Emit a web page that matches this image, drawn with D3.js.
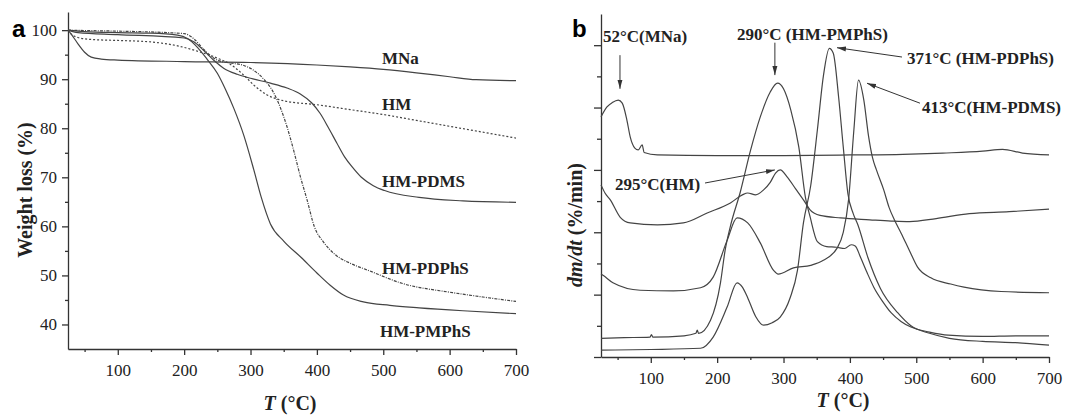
<!DOCTYPE html>
<html>
<head>
<meta charset="utf-8">
<script src="https://cdn.jsdelivr.net/npm/d3@7"></script>
<style>
body { margin: 0; background: #fff; }
svg { display: block; font-family: "Liberation Serif", "Times New Roman", serif; }
.axis path, .axis line { stroke: #333; stroke-width: 1.3; }
.axis text { font-size: 17px; fill: #222; }
.curve { fill: none; stroke: #444; stroke-width: 1.2; }
.lbl { font-size: 17px; font-weight: bold; fill: #222; }
.title { font-size: 20px; font-weight: bold; fill: #222; }
.arrow { stroke: #333; stroke-width: 1; fill: none; }
</style>
</head>
<body>
<script>
//////////////// Datas (a) : TGA, weight loss % vs T ////////////////////
var xTicks = [100, 200, 300, 400, 500, 600, 700];
var xMinor = [50, 150, 250, 350, 450, 550, 650];
var yTicksA = [40, 50, 60, 70, 80, 90, 100];
var yMinorA = [45, 55, 65, 75, 85, 95];

var tgaMNa = [[25,100],[32,98.8],[40,97.2],[50,95.5],[60,94.5],[75,94.1],[100,93.9],[200,93.6],[300,93.4],[400,92.9],[450,92.5],[500,92.0],[550,91.3],[600,90.5],[640,89.9],[700,89.7]];
var tgaHM = [[25,100],[30,99.2],[40,98.5],[60,98.1],[100,97.9],[150,97.6],[190,96.8],[225,95.5],[250,94.3],[270,93],[290,90.8],[305,88.8],[325,86.8],[350,85.6],[400,84.8],[450,83.8],[500,82.8],[550,81.6],[600,80.4],[650,79.2],[700,78]];
var tgaPDMS = [[25,100],[40,99.5],[100,99.1],[200,98.4],[215,97.6],[230,95.8],[245,93.8],[260,92.2],[280,91],[300,90.2],[330,89.2],[355,88.2],[375,87],[392,85.2],[405,83],[417,80.2],[430,77],[442,74.1],[455,71.8],[467,70],[485,68.3],[502,67.3],[554,65.9],[620,65.2],[700,64.9]];
var tgaPMPhS = [[25,100],[50,99.7],[100,99.5],[150,99.4],[190,99],[205,98.3],[220,96.5],[235,94],[250,91.2],[262,88],[275,84],[290,78.5],[305,71.5],[316,66],[330,60.5],[350,57],[376,53.7],[400,50.5],[420,48],[440,46],[470,44.6],[510,43.9],[554,43.4],[620,42.8],[700,42.2]];
var tgaPDPhS = [[25,100],[60,99.9],[100,99.8],[200,99.3],[215,98.2],[230,96],[250,93.9],[270,93.3],[290,92.8],[305,91.8],[320,90],[335,87.2],[345,84.2],[355,80.3],[365,75.5],[375,70.2],[385,65.5],[396,60],[410,56.8],[427,54.3],[450,52.5],[478,51],[528,48.4],[604,46.5],[650,45.6],[700,44.7]];

var namesA = ["MNa", "HM", "HM-PDMS", "HM-PDPhS", "HM-PMPhS"];
var labelPosA = [[498,93.1],[498,83.7],[498,68.0],[498,50.3],[495,37.4]];

//////////////// Datas (b) : DTG, dm/dt (arb.) vs T ////////////////////
var yMajorB = [0, 1, 2, 3, 4, 5];
var yMinorB = [0.5, 1.5, 2.5, 3.5, 4.5];

var dtgMNa = [[25,3.85],[34,4.01],[42,4.08],[51,4.12],[57,4.07],[64,3.8],[69,3.53],[76,3.35],[81,3.32],[87,3.4],[90,3.28],[110,3.24],[200,3.23],[300,3.23],[400,3.24],[480,3.25],[540,3.27],[600,3.3],[630,3.33],[660,3.27],[700,3.24]];
var dtgHM = [[25,2.76],[31,2.63],[39,2.52],[54,2.24],[69,2.15],[110,2.12],[149,2.15],[185,2.31],[220,2.47],[238,2.6],[246,2.63],[258,2.6],[270,2.68],[280,2.8],[288,2.95],[295,3.0],[306,2.88],[318,2.7],[330,2.52],[340,2.36],[355,2.27],[386,2.23],[430,2.2],[462,2.18],[490,2.17],[530,2.22],[580,2.3],[640,2.33],[700,2.37]];
var dtgPDMS = [[25,1.33],[28,1.31],[43,1.19],[84,1.07],[134,1.06],[175,1.11],[194,1.28],[215,1.87],[230,2.23],[246,2.15],[265,1.83],[285,1.39],[292,1.33],[315,1.43],[341,1.47],[360,1.55],[381,1.75],[390,2.0],[398,2.52],[406,3.64],[413,4.44],[421,4.12],[428,3.55],[434,3.2],[440,3.0],[451,2.68],[459,2.4],[467,2.2],[477,1.99],[490,1.7],[502,1.44],[522,1.27],[552,1.17],[572,1.12],[628,1.05],[700,1.03]];
var dtgPMPhS = [[25,0.30],[60,0.31],[99,0.32],[101,0.36],[103,0.32],[150,0.34],[168,0.38],[170,0.43],[172,0.38],[190,0.59],[205,1.19],[212,1.71],[220,2.1],[235,2.65],[250,3.3],[265,3.85],[280,4.25],[291,4.39],[300,4.3],[311,3.96],[323,3.37],[333,2.56],[340,2.25],[351,1.85],[365,1.77],[380,1.76],[392,1.74],[402,1.8],[408,1.78],[416,1.6],[426,1.35],[436,1.12],[450,0.88],[462,0.71],[477,0.57],[492,0.48],[520,0.4],[548,0.35],[600,0.33],[650,0.34],[700,0.34]];
var dtgPDPhS = [[25,0.11],[100,0.12],[175,0.14],[194,0.32],[215,0.8],[230,1.19],[238,1.12],[246,0.95],[258,0.65],[270,0.51],[283,0.55],[295,0.64],[310,0.95],[321,1.39],[330,2.15],[341,2.75],[351,3.64],[360,4.5],[369,4.95],[375,4.87],[383,4.17],[390,3.37],[397,2.62],[405,2.3],[412,2.12],[427,1.6],[446,1.1],[472,0.71],[492,0.5],[520,0.38],[550,0.3],[600,0.25],[650,0.23],[700,0.19]];

var annLabels = ["52°C(MNa)", "290°C (HM-PMPhS)", "371°C (HM-PDPhS)", "413°C(HM-PDMS)", "295°C(HM)"];
var annTextPos = [[28,5.05],[230,5.08],[486,4.70],[508.7,3.91],[46,2.68]];
var annFrom = [[53.6,4.84],[287,5.04],[478.5,4.81],[505.6,4.07],[181.7,2.79]];
var annTo = [[53.6,4.30],[287,4.52],[380.6,4.96],[425.8,4.39],[287,3.0]];

//////////////// SVG ////////////////////
var svg = d3.select("body").append("svg")
  .attr("width", 1065)
  .attr("height", 415);

svg.append("defs").append("marker")
  .attr("id", "head")
  .attr("markerUnits", "userSpaceOnUse")
  .attr("markerWidth", 9).attr("markerHeight", 6)
  .attr("refX", 9).attr("refY", 3)
  .attr("orient", "auto")
  .append("path").attr("d", "M0,0.5L9,3L0,5.5Z").attr("fill", "#333");

// serif tick labels (d3 puts sans-serif on the axis group)
function serifAxis(g) {
  g.attr("font-family", "Liberation Serif, Times New Roman, serif").attr("font-size", 17);
}

//////////////// Panel a ////////////////////
var xA = d3.scaleLinear().domain([25, 700]).range([68, 516]);
var yA = d3.scaleLinear().domain([35, 103.7]).range([349, 12]);

var gA = svg.append("g");

gA.append("g").attr("class", "axis")
  .attr("transform", "translate(0,349)")
  .call(d3.axisBottom(xA).tickValues(xTicks).tickSize(6).tickSizeOuter(0).tickPadding(9))
  .call(serifAxis);
gA.append("g").attr("class", "axis")
  .attr("transform", "translate(0,349)")
  .call(d3.axisBottom(xA).tickValues(xMinor).tickSize(3).tickFormat(""))
  .select(".domain").remove();
gA.append("g").attr("class", "axis")
  .attr("transform", "translate(68,0)")
  .call(d3.axisLeft(yA).tickValues(yTicksA).tickSize(6).tickSizeOuter(0).tickPadding(5))
  .call(serifAxis);
gA.append("g").attr("class", "axis")
  .attr("transform", "translate(68,0)")
  .call(d3.axisLeft(yA).tickValues(yMinorA).tickSize(3).tickFormat(""))
  .select(".domain").remove();

var lineA = d3.line()
  .x(function(d) { return xA(d[0]); })
  .y(function(d) { return yA(d[1]); })
  .curve(d3.curveMonotoneX);

var seriesA = [tgaMNa, tgaHM, tgaPDMS, tgaPDPhS, tgaPMPhS];
var dashA = [null, "2,2", null, "3,1.2,1,1.2", null];
gA.selectAll("path.curve")
  .data(seriesA)
  .enter().append("path")
  .attr("class", "curve")
  .attr("stroke-dasharray", function(d, i) { return dashA[i]; })
  .attr("d", lineA);

gA.selectAll("text.lbl")
  .data(namesA)
  .enter().append("text")
  .attr("class", "lbl")
  .attr("x", function(d, i) { return xA(labelPosA[i][0]); })
  .attr("y", function(d, i) { return yA(labelPosA[i][1]); })
  .text(function(d) { return d; });

gA.append("text")
  .attr("x", 12).attr("y", 37)
  .style("font-family", "'Liberation Sans', Arial, sans-serif")
  .style("font-weight", "bold").style("font-size", "24px")
  .text("a");

gA.append("text")
  .attr("class", "title")
  .attr("transform", "translate(32,190) rotate(-90)")
  .attr("text-anchor", "middle")
  .text("Weight loss (%)");

var xtA = gA.append("text")
  .attr("class", "title")
  .attr("x", 290).attr("y", 410)
  .attr("text-anchor", "middle");
xtA.append("tspan").style("font-style", "italic").text("T");
xtA.append("tspan").text(" (°C)");

//////////////// Panel b ////////////////////
var xB = d3.scaleLinear().domain([25, 700]).range([601, 1049]);
var yB = d3.scaleLinear().domain([0, 5.5]).range([357, 14]);

var gB = svg.append("g");

gB.append("g").attr("class", "axis")
  .attr("transform", "translate(0,357)")
  .call(d3.axisBottom(xB).tickValues(xTicks).tickSize(6).tickSizeOuter(0).tickPadding(9))
  .call(serifAxis);
gB.append("g").attr("class", "axis")
  .attr("transform", "translate(0,357)")
  .call(d3.axisBottom(xB).tickValues(xMinor).tickSize(3).tickFormat(""))
  .select(".domain").remove();
gB.append("g").attr("class", "axis")
  .attr("transform", "translate(601,0)")
  .call(d3.axisLeft(yB).tickValues(yMajorB).tickSize(7).tickSizeOuter(0).tickFormat(""));
gB.append("g").attr("class", "axis")
  .attr("transform", "translate(601,0)")
  .call(d3.axisLeft(yB).tickValues(yMinorB).tickSize(4).tickFormat(""))
  .select(".domain").remove();

var lineB = d3.line()
  .x(function(d) { return xB(d[0]); })
  .y(function(d) { return yB(d[1]); })
  .curve(d3.curveMonotoneX);

var seriesB = [dtgMNa, dtgHM, dtgPDMS, dtgPMPhS, dtgPDPhS];
gB.selectAll("path.curve")
  .data(seriesB)
  .enter().append("path")
  .attr("class", "curve")
  .attr("d", lineB);

gB.selectAll("line.arrow")
  .data(annLabels)
  .enter().append("line")
  .attr("class", "arrow")
  .attr("x1", function(d, i) { return xB(annFrom[i][0]); })
  .attr("y1", function(d, i) { return yB(annFrom[i][1]); })
  .attr("x2", function(d, i) { return xB(annTo[i][0]); })
  .attr("y2", function(d, i) { return yB(annTo[i][1]); })
  .attr("marker-end", "url(#head)");

gB.selectAll("text.lbl")
  .data(annLabels)
  .enter().append("text")
  .attr("class", "lbl")
  .attr("x", function(d, i) { return xB(annTextPos[i][0]); })
  .attr("y", function(d, i) { return yB(annTextPos[i][1]); })
  .text(function(d) { return d; });

gB.append("text")
  .attr("x", 572).attr("y", 37)
  .style("font-family", "'Liberation Sans', Arial, sans-serif")
  .style("font-weight", "bold").style("font-size", "24px")
  .text("b");

var ytB = gB.append("text")
  .attr("class", "title")
  .attr("transform", "translate(582,225) rotate(-90)")
  .attr("text-anchor", "middle");
ytB.append("tspan").style("font-style", "italic").text("dm/dt");
ytB.append("tspan").text(" (%/min)");

var xtB = gB.append("text")
  .attr("class", "title")
  .attr("x", 843).attr("y", 407)
  .attr("text-anchor", "middle");
xtB.append("tspan").style("font-style", "italic").text("T");
xtB.append("tspan").text(" (°C)");
</script>
</body>
</html>
